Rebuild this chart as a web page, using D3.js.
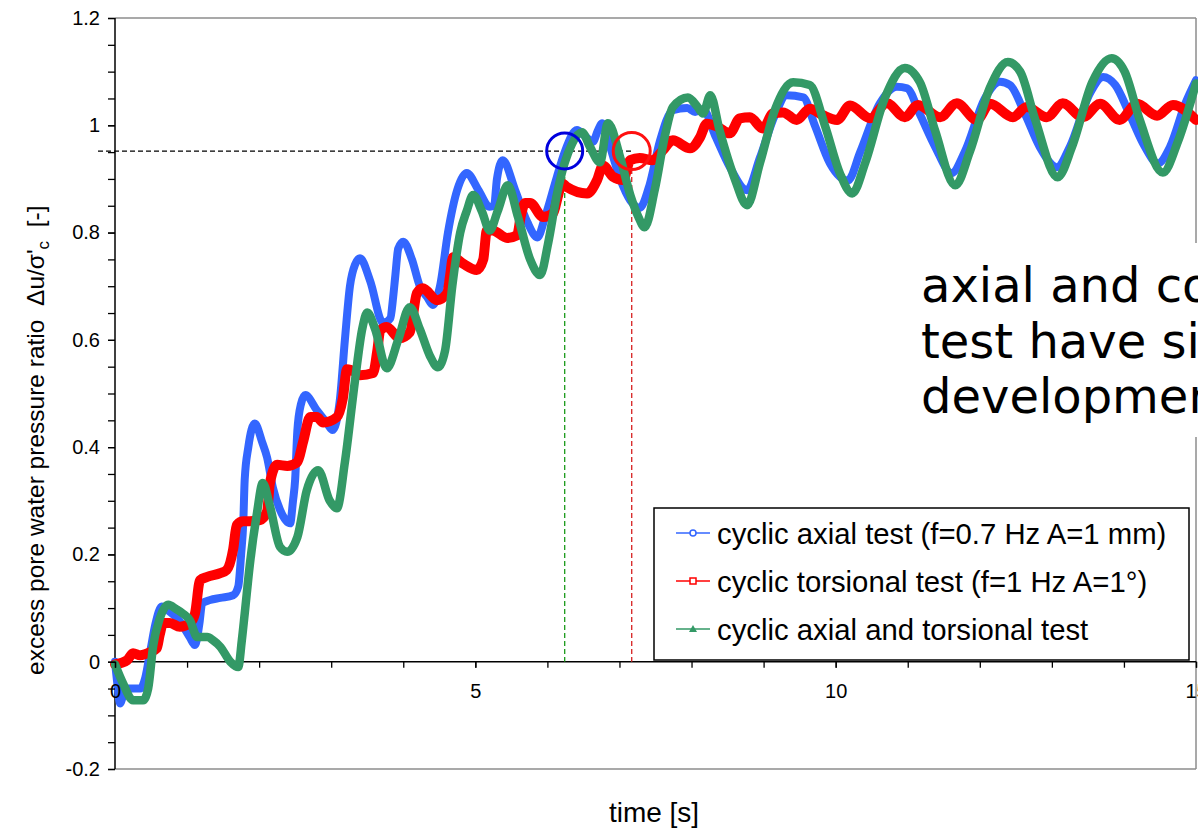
<!DOCTYPE html>
<html><head><meta charset="utf-8">
<script src="https://cdn.jsdelivr.net/npm/d3@7"></script>
<style>body{margin:0;background:#fff}svg{display:block}</style>
</head><body><svg id="c" width="1198" height="828"></svg>
<script>
// ---- data (time in s, excess pore water pressure ratio) ----
const axialT = [0.00,0.04,0.07,0.11,0.18,0.35,0.42,0.49,0.56,0.65,0.74,0.90,1.04,1.11,1.17,1.21,1.32,1.46,1.64,1.71,1.75,1.78,1.80,1.85,1.94,2.04,2.11,2.19,2.29,2.43,2.47,2.50,2.53,2.58,2.64,2.80,2.94,3.02,3.12,3.19,3.26,3.33,3.40,3.54,3.72,3.82,3.86,3.89,3.93,4.00,4.12,4.23,4.33,4.41,4.51,4.62,4.75,4.88,5.04,5.20,5.26,5.30,5.38,5.55,5.72,5.86,5.97,6.13,6.24,6.41,6.52,6.63,6.70,6.76,6.87,7.01,7.15,7.28,7.42,7.56,7.74,7.94,8.05,8.16,8.33,8.54,8.77,8.95,9.16,9.32,9.55,9.71,9.92,10.17,10.34,10.61,10.85,10.99,11.17,11.38,11.61,11.79,12.07,12.28,12.42,12.63,12.83,13.07,13.25,13.53,13.71,13.88,14.08,14.29,14.47,14.64,14.85,15.0];
const axialV = [0.0,-0.05,-0.078,-0.065,-0.05,-0.05,-0.03,0.02,0.07,0.103,0.095,0.075,0.045,0.031,0.07,0.109,0.115,0.119,0.124,0.14,0.2,0.26,0.34,0.40,0.444,0.41,0.381,0.325,0.283,0.258,0.30,0.34,0.43,0.48,0.497,0.469,0.445,0.432,0.488,0.6,0.70,0.74,0.752,0.71,0.631,0.64,0.68,0.72,0.77,0.783,0.75,0.70,0.68,0.665,0.70,0.80,0.88,0.911,0.88,0.848,0.85,0.9,0.935,0.88,0.82,0.791,0.83,0.903,0.95,0.991,0.98,0.969,0.99,1.004,0.96,0.90,0.86,0.846,0.89,0.97,1.028,1.032,1.025,1.03,0.98,0.92,0.879,0.94,1.02,1.056,1.052,1.0,0.929,0.897,0.95,1.04,1.072,1.069,1.02,0.96,0.911,0.95,1.05,1.081,1.075,1.02,0.96,0.922,0.96,1.06,1.090,1.075,1.02,0.96,0.929,0.96,1.04,1.084];

const torsT = [0.00,0.17,0.25,0.35,0.49,0.58,0.62,0.67,0.76,0.90,1.04,1.11,1.18,1.28,1.46,1.55,1.64,1.69,1.78,1.87,2.01,2.11,2.15,2.25,2.39,2.53,2.61,2.71,2.80,2.89,3.08,3.16,3.22,3.33,3.40,3.58,3.64,3.68,3.77,3.95,4.09,4.19,4.27,4.47,4.61,4.65,4.69,4.83,5.02,5.11,5.16,5.24,5.44,5.58,5.63,5.69,5.76,5.94,6.08,6.15,6.20,6.27,6.55,6.69,6.77,6.91,7.05,7.15,7.28,7.46,7.60,7.74,7.98,8.12,8.21,8.35,8.53,8.67,8.81,8.99,9.13,9.27,9.46,9.64,9.82,10.02,10.20,10.48,10.71,10.96,11.14,11.45,11.68,11.96,12.14,12.46,12.65,12.93,13.15,13.43,13.67,13.94,14.18,14.46,14.68,15.0];
const torsV = [-0.005,0.003,0.016,0.012,0.018,0.025,0.05,0.072,0.072,0.065,0.072,0.09,0.152,0.158,0.165,0.171,0.21,0.255,0.262,0.262,0.264,0.28,0.333,0.367,0.365,0.372,0.41,0.456,0.456,0.446,0.456,0.49,0.545,0.54,0.534,0.538,0.58,0.618,0.624,0.603,0.614,0.687,0.696,0.674,0.687,0.72,0.754,0.742,0.73,0.75,0.804,0.804,0.79,0.795,0.83,0.855,0.855,0.829,0.836,0.87,0.892,0.885,0.873,0.898,0.925,0.904,0.898,0.935,0.939,0.935,0.953,0.972,0.957,0.978,1.003,0.998,0.985,1.013,1.015,0.994,1.022,1.024,1.01,1.031,1.019,1.01,1.037,1.013,1.041,1.015,1.038,1.015,1.041,1.01,1.04,1.015,1.034,1.015,1.041,1.015,1.04,1.01,1.04,1.018,1.038,1.01];

const combT = [0.00,0.11,0.25,0.39,0.46,0.53,0.62,0.74,0.85,0.94,1.04,1.14,1.28,1.36,1.46,1.60,1.71,1.76,1.80,1.87,1.97,2.05,2.15,2.29,2.39,2.53,2.66,2.82,2.98,3.08,3.19,3.33,3.43,3.50,3.61,3.77,3.93,4.09,4.23,4.37,4.48,4.58,4.68,4.79,4.88,4.97,5.09,5.20,5.31,5.45,5.59,5.76,5.90,6.01,6.13,6.24,6.34,6.48,6.59,6.73,6.84,7.01,7.15,7.26,7.35,7.49,7.63,7.74,7.95,8.08,8.16,8.26,8.39,8.60,8.77,8.95,9.16,9.41,9.64,9.85,10.06,10.23,10.41,10.68,10.96,11.17,11.38,11.66,11.86,12.14,12.39,12.56,12.77,13.08,13.28,13.56,13.83,14.01,14.22,14.54,14.75,15.0];
const combV = [-0.005,-0.04,-0.072,-0.072,-0.05,0.03,0.08,0.106,0.098,0.09,0.077,0.046,0.046,0.04,0.028,0.0,-0.01,0.04,0.09,0.18,0.277,0.333,0.29,0.214,0.205,0.232,0.319,0.357,0.30,0.286,0.372,0.524,0.62,0.651,0.62,0.547,0.60,0.661,0.62,0.57,0.549,0.58,0.70,0.80,0.84,0.870,0.84,0.804,0.84,0.888,0.83,0.75,0.721,0.78,0.87,0.93,0.965,0.987,0.96,0.931,1.004,0.94,0.87,0.83,0.81,0.88,0.98,1.034,1.052,1.035,1.022,1.056,0.99,0.90,0.851,0.93,1.03,1.080,1.075,1.0,0.91,0.873,0.93,1.05,1.107,1.08,0.99,0.888,0.95,1.07,1.118,1.10,1.01,0.903,0.96,1.08,1.125,1.10,1.01,0.912,0.97,1.078];

const seriesNames = ["cyclic axial test (f=0.7 Hz A=1 mm)", "cyclic torsional test (f=1 Hz A=1\u00B0)", "cyclic axial and torsional test"];
const xTicks = [0,5,10,15];
const yTicks = [-0.2,0,0.2,0.4,0.6,0.8,1,1.2];
const markTimes = [6.24, 7.17];   // onset times marked by circles
const markLevel = 0.952;
const noteLines = ["axial and combined", "test have similar", "development"];

// ---- drawing ----
const svg = d3.select("#c");
const x = d3.scaleLinear().domain([0,15]).range([115,1196]);
const y = d3.scaleLinear().domain([-0.2,1.2]).range([769,18]);
const FONT = "'Liberation Sans', Arial, sans-serif";

// frame
const frame = svg.append("g").attr("stroke","#8c8c8c").attr("stroke-width",1.5).attr("fill","none");
frame.append("line").attr("x1",x(0)).attr("x2",x(15)).attr("y1",y(1.2)).attr("y2",y(1.2));
frame.append("line").attr("x1",x(15)).attr("x2",x(15)).attr("y1",y(1.2)).attr("y2",y(-0.2));
frame.append("line").attr("x1",x(0)).attr("x2",x(15)).attr("y1",y(-0.2)).attr("y2",y(-0.2));

// axis lines
svg.append("line").attr("x1",x(0)).attr("x2",x(0)).attr("y1",y(1.2)).attr("y2",y(-0.2)).attr("stroke","#000").attr("stroke-width",1.5);
svg.append("line").attr("x1",x(0)).attr("x2",x(15)).attr("y1",y(0)).attr("y2",y(0)).attr("stroke","#000").attr("stroke-width",1.5);

// white note box
svg.append("rect").attr("x",905).attr("y",243).attr("width",300).attr("height",194).attr("fill","#fff");
const note = svg.append("text").attr("font-family","'DejaVu Sans', Verdana, sans-serif").attr("font-size",48).attr("fill","#000");
noteLines.forEach((t,i)=>note.append("tspan").attr("x",921).attr("y",302+i*55.5).text(t));

// dashed guides
const guides = svg.append("g").attr("fill","none").attr("stroke-width",1.3).attr("stroke-dasharray","5,3");
guides.append("line").attr("x1",98).attr("x2",x(markTimes[1])).attr("y1",y(markLevel)).attr("y2",y(markLevel)).attr("stroke","#000");
guides.append("line").attr("x1",x(markTimes[0])).attr("x2",x(markTimes[0])).attr("y1",y(markLevel)+18).attr("y2",y(0)).attr("stroke","#1a9a1a");
guides.append("line").attr("x1",x(markTimes[1])).attr("x2",x(markTimes[1])).attr("y1",y(markLevel)+18).attr("y2",y(0)).attr("stroke","#d62020");

// curves
const line = d3.line().x(d=>x(d[0])).y(d=>y(d[1])).curve(d3.curveMonotoneX);
const series = [
  {t:axialT, v:axialV, color:"#3366ff", w:8},
  {t:torsT, v:torsV, color:"#ff0000", w:10},
  {t:combT, v:combV, color:"#339966", w:8.5}
];
series.forEach(s=>{
  const pts = s.t.map((t,i)=>[t,s.v[i]]);
  svg.append("path").attr("d",line(pts)).attr("fill","none").attr("stroke",s.color)
    .attr("stroke-width",s.w).attr("stroke-linejoin","round").attr("stroke-linecap","round");
});

// circles
svg.append("circle").attr("cx",x(markTimes[0])).attr("cy",y(markLevel)).attr("r",18).attr("fill","none").attr("stroke","#0000dd").attr("stroke-width",3);
svg.append("circle").attr("cx",x(markTimes[1])).attr("cy",y(markLevel)).attr("r",18.5).attr("fill","none").attr("stroke","#ff1010").attr("stroke-width",3);

// axes ticks / labels
const fmt = v => String(Math.round(v*10)/10);
const yMinor = svg.append("g").attr("transform",`translate(${x(0)},0)`)
  .call(d3.axisLeft(y).tickValues(d3.range(-4,25).map(i=>i*0.05)).tickSize(7).tickFormat(""));
yMinor.select(".domain").remove();
const yAx = svg.append("g").attr("transform",`translate(${x(0)},0)`)
  .call(d3.axisLeft(y).tickValues(yTicks).tickSize(7).tickPadding(8).tickFormat(fmt));
yAx.select(".domain").remove();
yAx.selectAll("text").attr("font-family",FONT).attr("font-size",20).attr("fill","#000");

const xMinor = svg.append("g").attr("transform",`translate(0,${y(0)})`)
  .call(d3.axisBottom(x).tickValues(d3.range(0,16)).tickSize(6).tickFormat(""));
xMinor.select(".domain").remove();
const xAx = svg.append("g").attr("transform",`translate(0,${y(0)})`)
  .call(d3.axisBottom(x).tickValues(xTicks).tickSize(6).tickPadding(16).tickFormat(d3.format("d")));
xAx.select(".domain").remove();
xAx.selectAll("text").attr("font-family",FONT).attr("font-size",20).attr("fill","#000");
svg.selectAll(".tick line").attr("stroke","#000").attr("stroke-width",1.3);

// axis titles
svg.append("text").attr("x",654).attr("y",822).attr("text-anchor","middle")
  .attr("font-family",FONT).attr("font-size",28).text("time [s]");
const yt = svg.append("text").attr("transform","translate(44,675) rotate(-90)").attr("text-anchor","start")
  .attr("font-family",FONT).attr("font-size",24.5);
yt.append("tspan").attr("xml:space","preserve").text("excess pore water pressure ratio \u00A0\u0394u/\u03C3'");
yt.append("tspan").attr("font-size",17).attr("dy",5).text("c");
yt.append("tspan").attr("dy",-5).text("\u00A0\u00A0[-]");

// legend
const lg = svg.append("g");
lg.append("rect").attr("x",654).attr("y",508).attr("width",535).attr("height",152).attr("fill","#fff").attr("stroke","#000").attr("stroke-width",1.5);
const rowY = [533,581,629];
const symbols = [
  g=>g.append("circle").attr("cx",693).attr("r",3).attr("fill","#fff").attr("stroke","#3366ff").attr("stroke-width",1.5),
  g=>g.append("rect").attr("x",690).attr("y",-3).attr("width",6).attr("height",6).attr("fill","#fff").attr("stroke","#ff0000").attr("stroke-width",1.5),
  g=>g.append("path").attr("d","M693,-4L697,3L689,3Z").attr("fill","#339966")
];
series.forEach((s,i)=>{
  const g = lg.append("g").attr("transform",`translate(0,${rowY[i]})`);
  g.append("line").attr("x1",676).attr("x2",710).attr("stroke",s.color).attr("stroke-width",1.5);
  symbols[i](g);
  g.append("text").attr("x",717).attr("y",11).attr("font-family",FONT).attr("font-size",29.3).attr("fill","#000").text(seriesNames[i]);
});
</script></body></html>
